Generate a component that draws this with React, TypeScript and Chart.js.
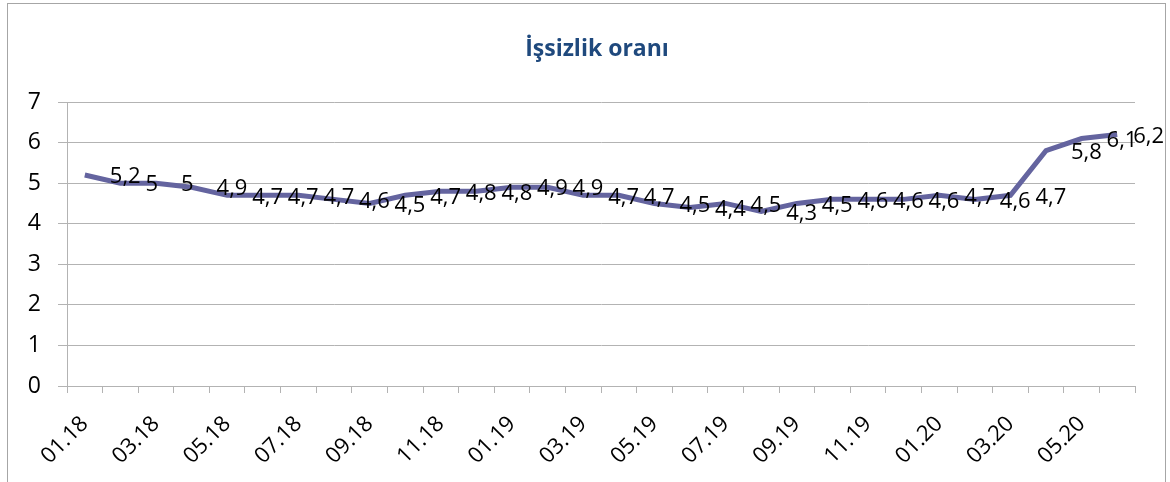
import React, { useEffect, useRef } from "react";
import { Chart, registerables } from "chart.js";

Chart.register(...registerables);

const categories: string[] = [
  "01.18", "02.18", "03.18", "04.18", "05.18", "06.18", "07.18", "08.18", "09.18", "10.18", "11.18", "12.18",
  "01.19", "02.19", "03.19", "04.19", "05.19", "06.19", "07.19", "08.19", "09.19", "10.19", "11.19", "12.19",
  "01.20", "02.20", "03.20", "04.20", "05.20", "06.20",
];

const unemploymentRate: number[] = [
  5.2, 5, 5, 4.9, 4.7, 4.7, 4.7, 4.6, 4.5, 4.7, 4.8, 4.8,
  4.9, 4.9, 4.7, 4.7, 4.5, 4.4, 4.5, 4.3, 4.5, 4.6, 4.6, 4.6,
  4.7, 4.6, 4.7, 5.8, 6.1, 6.2,
];

const yTicks: number[] = [0, 1, 2, 3, 4, 5, 6, 7];

const chartTitle = "İşsizlik oranı";

const FONT = "'Open Sans', 'Liberation Sans', sans-serif";

const framePlugin = {
  id: "frame",
  beforeDraw(chart: any) {
    const ctx = chart.ctx;
    ctx.save();
    ctx.fillStyle = "#ffffff";
    ctx.fillRect(0, 0, chart.width, chart.height);
    ctx.strokeStyle = "#a6a6a6";
    ctx.lineWidth = 1;
    ctx.strokeRect(7.5, 3.5, 1158, 520);
    ctx.fillStyle = "#1f497d";
    ctx.font = `bold 23px ${FONT}`;
    ctx.textAlign = "center";
    ctx.textBaseline = "alphabetic";
    ctx.fillText(chartTitle, 597, 56);
    ctx.restore();
  },
};

const labelPlugin = {
  id: "pointLabels",
  afterDatasetsDraw(chart: any) {
    const ctx = chart.ctx;
    const meta = chart.getDatasetMeta(0);
    const data = chart.data.datasets[0].data as number[];
    ctx.save();
    ctx.fillStyle = "#000000";
    ctx.font = `22px ${FONT}`;
    ctx.textAlign = "left";
    ctx.textBaseline = "middle";
    meta.data.forEach((pt: any, i: number) => {
      const txt = String(data[i]).replace(".", ",");
      const w = ctx.measureText(txt).width;
      const x = Math.min(pt.x + 25, 1164 - w);
      ctx.fillText(txt, x, pt.y + 2);
    });
    ctx.restore();
  },
};

export default function App() {
  const ref = useRef<HTMLCanvasElement | null>(null);

  useEffect(() => {
    document.body.style.margin = "0";
    if (!ref.current) return;
    const chart = new Chart(ref.current, {
      type: "line",
      data: {
        labels: categories,
        datasets: [
          {
            data: unemploymentRate,
            borderColor: "#64649f",
            borderWidth: 5,
            pointRadius: 0,
            tension: 0,
            fill: false,
          },
        ],
      },
      options: {
        animation: false,
        responsive: false,
        maintainAspectRatio: false,
        layout: { padding: { top: 102, right: 35, left: 0, bottom: 0 } },
        plugins: {
          legend: { display: false },
          tooltip: { enabled: false },
          title: { display: false },
        },
        scales: {
          x: {
            type: "category",
            offset: true,
            grid: {
              offset: true,
              drawOnChartArea: false,
              drawTicks: true,
              tickLength: 7,
              color: "#b3b3b3",
            },
            border: { display: true, color: "#b3b3b3" },
            ticks: {
              autoSkip: false,
              maxRotation: 45,
              minRotation: 45,
              padding: 18,
              color: "#000000",
              font: { family: FONT, size: 22 },
              callback: (_v: any, i: number) => (i % 2 === 0 ? categories[i] : ""),
            },
            afterFit: (s: any) => {
              s.height = 96;
            },
          },
          y: {
            min: 0,
            max: 7,
            afterBuildTicks: (s: any) => {
              s.ticks = yTicks.map((v) => ({ value: v }));
            },
            grid: {
              color: "#b3b3b3",
              tickLength: 9,
            },
            border: { display: true, color: "#b3b3b3" },
            ticks: {
              padding: 17,
              color: "#000000",
              font: { family: FONT, size: 23 },
            },
            afterFit: (s: any) => {
              s.width = 67;
            },
          },
        },
      },
      plugins: [framePlugin, labelPlugin],
    });
    return () => chart.destroy();
  }, []);

  return (
    <div style={{ width: 1170, height: 482 }}>
      <canvas ref={ref} width={1170} height={482} style={{ display: "block" }} />
    </div>
  );
}
